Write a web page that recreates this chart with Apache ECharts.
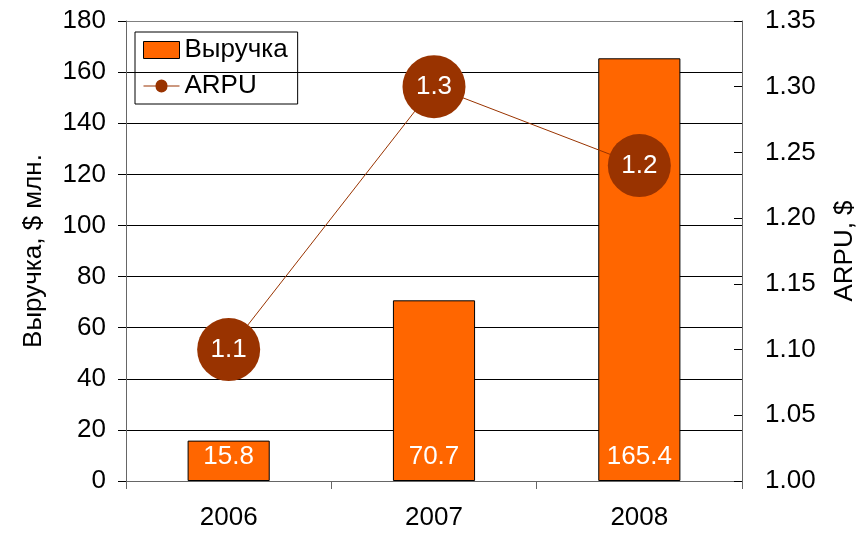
<!DOCTYPE html>
<html>
<head>
<meta charset="utf-8">
<script src="https://cdn.jsdelivr.net/npm/echarts@6/dist/echarts.min.js"></script>
<style>html,body{margin:0;padding:0;background:#fff}#c{width:868px;height:533px}</style>
</head>
<body>
<div id="c"></div>
<script>
const categories = ['2006', '2007', '2008'];
const revenue = [15.8, 70.7, 165.4];
const arpu = [1.10, 1.30, 1.24];
const revenueName = 'Выручка';
const arpuName = 'ARPU';
const leftAxisName = 'Выручка, $ млн.';
const rightAxisName = 'ARPU, $';

const FONT = '"Liberation Sans", Arial, sans-serif';
const FS = 26;
const chart = echarts.init(document.getElementById('c'), null, {renderer: 'canvas'});
const gridColors = ['#808080','#000','#000','#000','#000','#000','#000','#000','#000','#808080'];
chart.setOption({
  animation: false,
  backgroundColor: '#fff',
  textStyle: {fontFamily: FONT},
  grid: {left: 126, right: 126, top: 21, bottom: 52, containLabel: false},
  legend: {
    orient: 'vertical', left: 135, top: 32,
    padding: [5, 10, 5, 8],
    borderColor: '#000', borderWidth: 1,
    itemWidth: 36, itemHeight: 17, itemGap: 10,
    textStyle: {fontFamily: FONT, fontSize: FS, color: '#000'},
    data: [
      {name: revenueName, icon: 'rect', itemStyle: {color: '#FF6600', borderColor: '#000', borderWidth: 1}},
      {name: arpuName, icon: 'path://M0,9 L12,9 A6,6 0 1,1 24,9 L36,9 L36,10 L24,10 A6,6 0 1,1 12,10 L0,10 Z', itemStyle: {color: '#993300'}}
    ]
  },
  xAxis: {
    type: 'category', data: categories, boundaryGap: true,
    axisLine: {lineStyle: {color: '#666', width: 1}},
    axisTick: {show: true, alignWithLabel: false, length: 8, lineStyle: {color: '#666'}},
    axisLabel: {fontFamily: FONT, fontSize: FS, color: '#000', margin: 24}
  },
  yAxis: [
    {
      type: 'value', min: 0, max: 180, interval: 20, position: 'left',
      name: leftAxisName, nameLocation: 'middle', nameGap: 79, nameRotate: 90,
      nameTextStyle: {fontFamily: FONT, fontSize: FS, color: '#000'},
      axisLine: {show: true, lineStyle: {color: '#666'}},
      axisTick: {show: true, length: 8, lineStyle: {color: '#000'}},
      axisLabel: {fontFamily: FONT, fontSize: FS, color: '#000', margin: 20},
      splitLine: {show: true, lineStyle: {color: gridColors, width: 1}}
    },
    {
      type: 'value', min: 1.00, max: 1.35, interval: 0.05, position: 'right',
      name: rightAxisName, nameLocation: 'middle', nameGap: 90, nameRotate: 90,
      nameTextStyle: {fontFamily: FONT, fontSize: FS, color: '#000'},
      axisLine: {show: true, lineStyle: {color: '#666'}},
      axisTick: {show: true, inside: true, length: 8, lineStyle: {color: '#000'}},
      axisLabel: {fontFamily: FONT, fontSize: FS, color: '#000', margin: 23,
        formatter: v => v.toFixed(2)},
      splitLine: {show: false}
    }
  ],
  series: [
    {
      name: revenueName, type: 'bar', yAxisIndex: 0, data: revenue,
      barWidth: '40%',
      itemStyle: {color: '#FF6600', borderColor: '#000', borderWidth: 1},
      label: {show: true, position: 'insideBottom', distance: 11,
        fontFamily: FONT, fontSize: FS, color: '#fff',
        formatter: p => p.value.toFixed(1)}
    },
    {
      name: arpuName, type: 'line', yAxisIndex: 1, data: arpu,
      symbol: 'circle', symbolSize: 63,
      lineStyle: {color: '#993300', width: 1},
      itemStyle: {color: '#993300', borderWidth: 0},
      label: {show: true, position: 'inside', fontFamily: FONT, fontSize: FS, color: '#fff',
        formatter: p => p.value.toFixed(1)},
      z: 5
    }
  ]
});
</script>
</body>
</html>
